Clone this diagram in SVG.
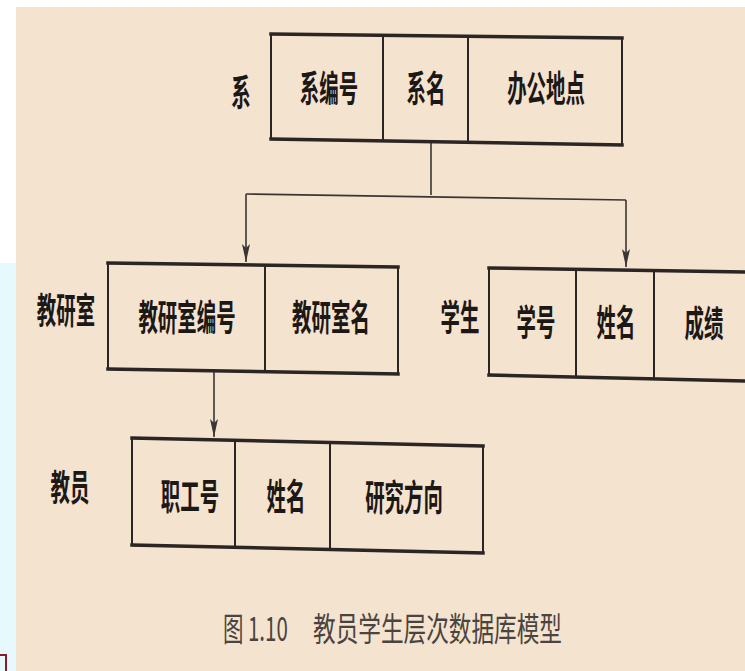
<svg xmlns="http://www.w3.org/2000/svg" width="745" height="671" viewBox="0 0 745 671">
<style>
.bg{fill:#f4e3cf}
.edge{fill:none;stroke:#2b2623;stroke-linecap:square}
.thick{stroke-width:3.5}
.thin{stroke-width:2}
.t{font-family:"Noto Sans CJK SC","Noto Sans",sans-serif;font-size:36px;font-weight:700;fill:#1c1816;text-anchor:middle;transform-box:fill-box;transform-origin:center;transform:scaleX(0.54)}
.cap{font-family:"Noto Sans CJK SC","Noto Sans",sans-serif;font-size:33px;font-weight:400;fill:#4a4440}
.conn{fill:none;stroke:#3a3532;stroke-width:1.6}
</style>
<defs>
<marker id="ah" markerUnits="userSpaceOnUse" markerWidth="20" markerHeight="10" refX="18" refY="4" orient="auto">
<path d="M0,0 L18,4 L0,8 L4,4 z" fill="#3a3532"/>
</marker>
</defs>
<rect width="745" height="671" fill="#ffffff"/>
<rect x="0" y="263" width="16" height="408" fill="#e6f9fc"/>
<rect class="bg" x="16" y="7" width="729" height="664"/>
<path d="M0,655 L6,655 L6,671" fill="none" stroke="#8a1c2c" stroke-width="2"/>

<g id="connectors">
<path class="conn" d="M431,142 L431,195"/>
<path class="conn" d="M246,194 L626,200"/>
<path class="conn" d="M246,194 L246,262" marker-end="url(#ah)"/>
<path class="conn" d="M626,200 L626,267" marker-end="url(#ah)"/>
<path class="conn" d="M214,372 L214,437" marker-end="url(#ah)"/>
</g>

<g id="node-xi">
<path class="edge thick" d="M271,34 L622,38 M271,139 L622,145"/>
<path class="edge thin" d="M271,34 L271,139 M383,35.3 L383,140.9 M468,36.2 L468,142.4 M622,38 L622,145"/>
<text class="t" x="241" y="106">系</text>
<text class="t" x="329" y="102">系编号</text>
<text class="t" x="426" y="102">系名</text>
<text class="t" x="546" y="102">办公地点</text>
</g>

<g id="node-jiaoyanshi">
<path class="edge thick" d="M108,263 L398,267 M108,369 L398,374"/>
<path class="edge thin" d="M108,263 L108,369 M265,265.2 L265,371.8 M398,267 L398,374"/>
<text class="t" x="66" y="324">教研室</text>
<text class="t" x="187" y="331">教研室编号</text>
<text class="t" x="331" y="331">教研室名</text>
</g>

<g id="node-xuesheng">
<path class="edge thick" d="M489,268 L745,272 M489,375 L745,381"/>
<path class="edge thin" d="M489,268 L489,375 M576,269.3 L576,377 M654,270.5 L654,378.9"/>
<text class="t" x="460" y="331">学生</text>
<text class="t" x="536" y="336">学号</text>
<text class="t" x="616" y="336">姓名</text>
<text class="t" x="704" y="337">成绩</text>
</g>

<g id="node-jiaoyuan">
<path class="edge thick" d="M132,438 L483,446 M132,545 L483,553"/>
<path class="edge thin" d="M132,438 L132,545 M235,440.3 L235,547.3 M330,442.5 L330,549.5 M483,446 L483,553"/>
<text class="t" x="70" y="501">教员</text>
<text class="t" x="190" y="510">职工号</text>
<text class="t" x="286" y="510">姓名</text>
<text class="t" x="404" y="511">研究方向</text>
</g>

<g id="caption">
<text class="cap" transform="translate(223,641) scale(0.62,1)">图 1.10</text>
<text class="cap" transform="translate(313,641) scale(0.686,1)">教员学生层次数据库模型</text>
</g>
</svg>
